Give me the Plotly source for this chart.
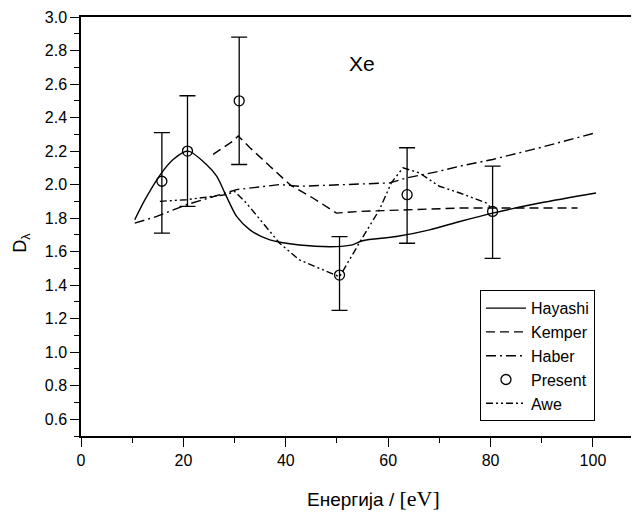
import plotly.graph_objects as go

# Hayashi (solid)
hayashi_x = [10.5, 12.5, 15.5, 18, 20.9, 24.5, 26.5, 28.4, 30.4, 33, 36.9, 42.7, 49.9, 53, 55, 61.6, 68.1, 74, 80.4, 89.6, 100.6]
hayashi_y = [1.79, 1.91, 2.06, 2.15, 2.20, 2.12, 2.05, 1.93, 1.81, 1.73, 1.67, 1.64, 1.63, 1.64, 1.665, 1.69, 1.73, 1.78, 1.83, 1.89, 1.95]

# Kemper (dashed)
kemper_x = [25.8, 29.7, 30.7, 33, 36.9, 40.8, 45.3, 49.9, 54.4, 74, 97]
kemper_y = [2.18, 2.26, 2.29, 2.22, 2.11, 2.00, 1.92, 1.83, 1.84, 1.86, 1.86]

# Haber (dash-dot)
haber_x = [10.5, 14.8, 20.6, 27.1, 30.4, 38.8, 42.7, 60.3, 63.6, 70, 74, 80.4, 89.6, 100.6]
haber_y = [1.77, 1.81, 1.88, 1.94, 1.97, 2.00, 1.99, 2.01, 2.04, 2.08, 2.11, 2.15, 2.22, 2.31]

# Present (measured, with error bars)
present_x = [15.8, 20.8, 30.9, 50.5, 63.7, 80.4]
present_y = [2.02, 2.20, 2.50, 1.46, 1.94, 1.84]
present_hi = [2.31, 2.53, 2.88, 1.69, 2.22, 2.11]
present_lo = [1.71, 1.87, 2.12, 1.25, 1.65, 1.56]

# Awe (dash-dot-dot)
awe_x = [15.4, 20.6, 28.4, 30, 32.3, 35.6, 38.8, 42.7, 50.5, 55.1, 58.3, 60.6, 62.9, 66.1, 70, 74, 79.2, 80.4]
awe_y = [1.90, 1.91, 1.94, 1.96, 1.89, 1.77, 1.65, 1.55, 1.45, 1.69, 1.85, 2.01, 2.10, 2.07, 1.99, 1.95, 1.89, 1.85]

x_ticks = [0, 20, 40, 60, 80, 100]
y_ticks = [0.6, 0.8, 1.0, 1.2, 1.4, 1.6, 1.8, 2.0, 2.2, 2.4, 2.6, 2.8, 3.0]

FONT = "Liberation Sans, Arial, sans-serif"
LW = 1.4

fig = go.Figure()
fig.add_trace(go.Scatter(x=hayashi_x, y=hayashi_y, mode="lines", name="Hayashi",
                         line=dict(color="black", width=LW, shape="spline", smoothing=0.8)))
fig.add_trace(go.Scatter(x=kemper_x, y=kemper_y, mode="lines", name="Kemper",
                         line=dict(color="black", width=LW, dash="9px,5px")))
fig.add_trace(go.Scatter(x=haber_x, y=haber_y, mode="lines", name="Haber",
                         line=dict(color="black", width=LW, dash="10px,4px,2px,4px")))
fig.add_trace(go.Scatter(
    x=present_x, y=present_y, mode="markers", name="Present",
    marker=dict(symbol="circle-open", size=10, color="black", line=dict(width=1.3, color="black")),
    error_y=dict(type="data", symmetric=False,
                 array=[h - v for h, v in zip(present_hi, present_y)],
                 arrayminus=[v - l for l, v in zip(present_lo, present_y)],
                 color="black", thickness=1.3, width=8)))
fig.add_trace(go.Scatter(x=awe_x, y=awe_y, mode="lines", name="Awe",
                         line=dict(color="black", width=LW, dash="7px,3px,2px,3px,2px,3px")))

# the page body adds an 8px offset; compensate so the plot lands where the reference has it
fig.update_layout(
    width=631, height=504,
    margin=dict(l=73, r=0, t=9, b=76),
    paper_bgcolor="white", plot_bgcolor="white",
    font=dict(family=FONT, size=16, color="black"),
    showlegend=True,
    legend=dict(x=0.715, y=0.348, xanchor="left", yanchor="top",
                bordercolor="black", borderwidth=1, bgcolor="rgba(255,255,255,0)",
                font=dict(family=FONT, size=16, color="black"),
                itemwidth=40, tracegroupgap=0),
    xaxis=dict(range=[0, 109], showgrid=False, zeroline=False,
               showline=True, linecolor="black", linewidth=1.5, mirror=True,
               ticks="outside", ticklen=9, tickwidth=1.3, tickcolor="black",
               tickvals=x_ticks, ticktext=[str(v) for v in x_ticks],
               minor=dict(dtick=10, ticks="outside", ticklen=5, tickwidth=1.2, tickcolor="black"),
               tickfont=dict(family=FONT, size=16)),
    yaxis=dict(range=[0.5, 3.0], showgrid=False, zeroline=False,
               showline=True, linecolor="black", linewidth=1.5, mirror=False,
               ticks="outside", ticklen=9, tickwidth=1.3, tickcolor="black",
               tickvals=y_ticks, ticktext=[f"{v:.1f}" for v in y_ticks],
               minor=dict(dtick=0.1, ticks="outside", ticklen=5, tickwidth=1.2, tickcolor="black"),
               tickfont=dict(family=FONT, size=16)),
    annotations=[
        dict(text="Xe", x=54.8, y=2.725, xref="x", yref="y", showarrow=False,
             xanchor="center", yanchor="middle",
             font=dict(family=FONT, size=21, color="black")),
        dict(text="D<sub>λ</sub>", x=-0.106, y=0.461, xref="paper", yref="paper",
             xanchor="center", yanchor="middle",
             showarrow=False, textangle=-90, font=dict(family=FONT, size=18, color="black")),
        dict(text="Енергија / <span style='font-family:Liberation Serif, Times New Roman, serif;font-size:22px'>[eV]</span>",
             x=0.525, y=-0.148, xref="paper", yref="paper", showarrow=False,
             xanchor="center", yanchor="middle",
             font=dict(family=FONT, size=19, color="black")),
    ],
)

fig.write_html("out.html")
